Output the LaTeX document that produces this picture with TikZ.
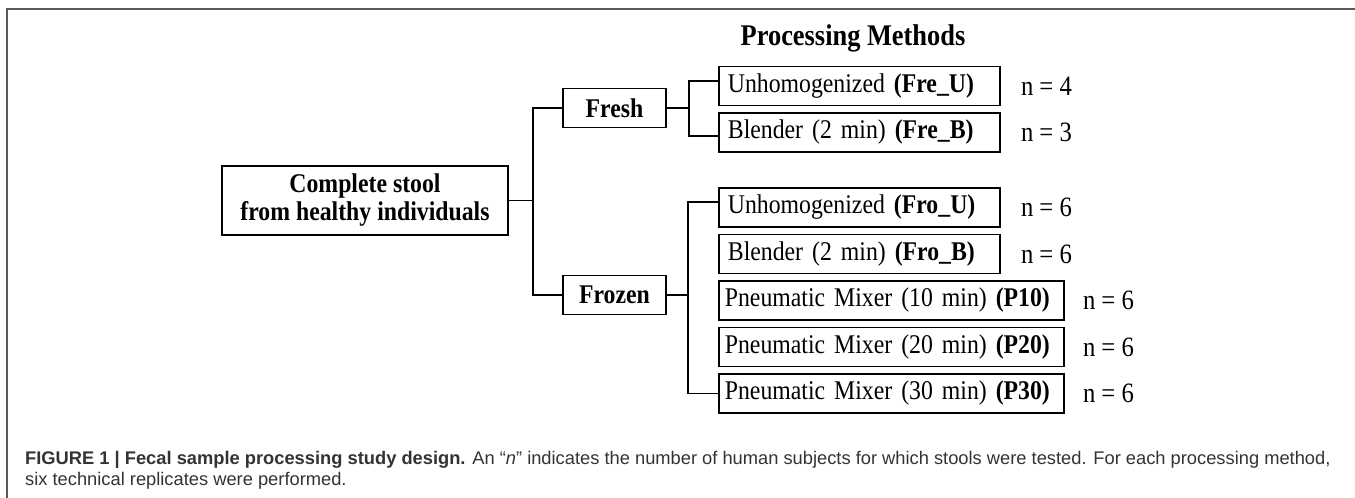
\documentclass[tikz,border=0pt]{standalone}
\usepackage{fontspec}
\setmainfont{Liberation Serif}[FakeStretch=0.88]
\newfontfamily\capfont{Liberation Sans}
\usetikzlibrary{positioning}

\begin{document}
\begin{tikzpicture}[x=1pt, y=-1pt,
    caja/.style={draw, line width=1.8pt, minimum height=39pt, inner xsep=9pt,
      font=\fontsize{27}{28}\selectfont},
    metodo/.style={caja, text width=263pt, align=left},
    mezcla/.style={caja, inner xsep=6pt, text width=333pt, align=left},
    tipo/.style={caja, font=\bfseries\fontsize{27}{28}\selectfont},
    cuenta/.style={font=\fontsize{28}{28}\selectfont, inner sep=0pt},
    linea/.style={line width=1.5pt},
    marco/.style={line width=2pt, black!65},
    pie/.style={anchor=base west, inner sep=0pt, text=black!80, font=\capfont\fontsize{18.3}{20}\selectfont}]
  \useasboundingbox (0,0) rectangle (1355,498);

  % Marco de la figura
  \draw[marco] (7,498) -- (7,9) -- (1355,9);

  % Titulo
  \node[font=\bfseries\fontsize{30}{30}\selectfont, anchor=base] (titulo) at (853,45) {Processing Methods};

  % Muestra de partida y tipos de muestra
  \node[tipo, align=center, minimum width=286pt, minimum height=69pt] (heces) at (365,200.5)
        {Complete stool\\from healthy individuals};
  \node[tipo, minimum width=103pt] (fresca) at (614.5,108) {Fresh};
  \node[tipo, minimum width=103pt] (congelada) at (614.5,295) {Frozen};

  % Metodos para la muestra fresca
  \node[metodo, anchor=west] (freU) at (718,86) {Unhomogenized \textbf{(Fre\_U)}};
  \node[metodo, below=5.7pt of freU] (freB) {Blender (2 min) \textbf{(Fre\_B)}};

  % Metodos para la muestra congelada
  \node[metodo, anchor=west] (froU) at (718,207.5) {Unhomogenized \textbf{(Fro\_U)}};
  \node[metodo, below=5.7pt of froU] (froB) {Blender (2 min) \textbf{(Fro\_B)}};
  \node[mezcla, below=5.7pt of froB.south west, anchor=north west] (p10) {Pneumatic Mixer (10 min) \textbf{(P10)}};
  \node[mezcla, below=5.7pt of p10] (p20) {Pneumatic Mixer (20 min) \textbf{(P20)}};
  \node[mezcla, below=5.7pt of p20] (p30) {Pneumatic Mixer (30 min) \textbf{(P30)}};

  % Numero de sujetos
  \node[cuenta, right=20pt of freU] (nfreU) {n = 4};
  \node[cuenta, right=20pt of freB] (nfreB) {n = 3};
  \node[cuenta, right=20pt of froU] (nfroU) {n = 6};
  \node[cuenta, right=20pt of froB] (nfroB) {n = 6};
  \node[cuenta, right=18pt of p10] (np10) {n = 6};
  \node[cuenta, right=18pt of p20] (np20) {n = 6};
  \node[cuenta, right=18pt of p30] (np30) {n = 6};

  % Conectores
  \draw[linea] (heces.east) -- ++(24,0) coordinate (rama0);
  \draw[linea] (fresca.west) -| (rama0) |- (congelada.west);
  \draw[linea] (fresca.east) -- ++(22,0) coordinate (rama1);
  \draw[linea] ([yshift=5pt]freU.west) -| (rama1) |- ([yshift=-3.5pt]freB.west);
  \draw[linea] (congelada.east) -- ++(21,0) coordinate (rama2);
  \draw[linea] ([yshift=5.5pt]froU.west) -| (rama2) |- (p30.west);

  % Pie de figura
  \node[pie] (pie1) at (25,464)
    {\textbf{FIGURE 1 | Fecal sample processing study design.} An “\textit{n}” indicates the number of human subjects for which stools were tested. For each processing method,};
  \node[pie] (pie2) at (25,485) {six technical replicates were performed.};
\end{tikzpicture}
\end{document}
